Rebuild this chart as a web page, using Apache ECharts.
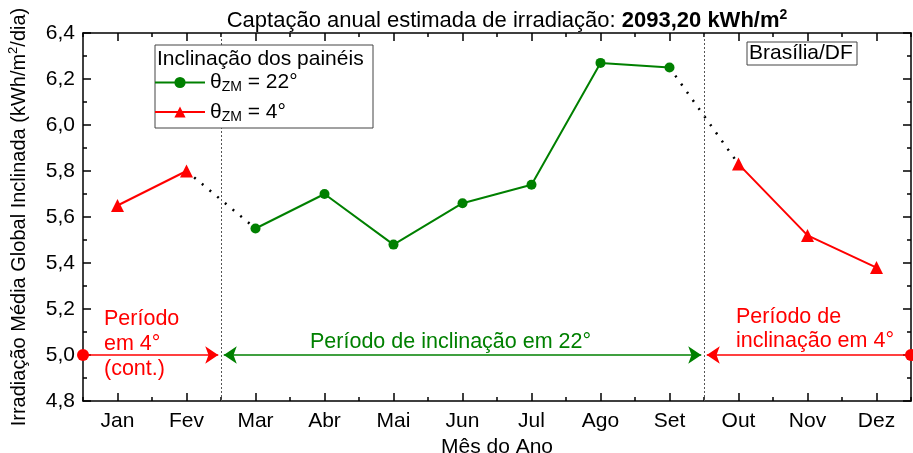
<!DOCTYPE html>
<html>
<head>
<meta charset="utf-8">
<script src="https://cdn.jsdelivr.net/npm/echarts@6/dist/echarts.min.js"></script>
<style>
html,body{margin:0;padding:0;background:#fff}
#main{width:913px;height:453px}
</style>
</head>
<body>
<div id="main"></div>
<script>
// dados
var meses = ['Jan','Fev','Mar','Abr','Mai','Jun','Jul','Ago','Set','Out','Nov','Dez'];
var incl22 = [null,null,5.55,5.70,5.48,5.66,5.74,6.27,6.25,null,null,null];
var incl4 = [5.65,5.80,null,null,null,null,null,null,null,5.83,5.52,5.38];
var transicao = [null,5.80,5.55,null,null,null,null,null,6.25,5.83,null,null];
var eixoY = {min: 4.8, max: 6.4, passo: 0.2};
var trocas = [2.5, 9.5];      // limites entre os períodos (eixo de meses)
var nivelSeta = 5.0;

var fonte = '"Liberation Sans", Arial, sans-serif';
var verde = '#008000', vermelho = '#ff0000';
var tam = 21;

function virgula(v){
    return v.toFixed(1).replace('.', ',');
}

function eixoX(pos, rotulos, centro){
    return {
        type: 'category', data: meses, position: pos, boundaryGap: true,
        axisLine: {show: centro, lineStyle: {color: '#000', width: 1.5}},
        axisTick: {show: true, inside: true, alignWithLabel: centro, length: centro ? 8 : 4,
            lineStyle: {color: '#000', width: 1.5}},
        axisLabel: {show: rotulos, color: '#000', fontSize: tam, fontFamily: fonte, margin: 10},
        splitLine: {show: false}
    };
}

function eixoY2(pos, rotulos){
    return {
        type: 'value', position: pos, min: eixoY.min, max: eixoY.max, interval: eixoY.passo,
        axisLine: {show: true, lineStyle: {color: '#000', width: 1.5}},
        axisTick: {show: true, inside: true, length: 8, lineStyle: {color: '#000', width: 1.5}},
        minorTick: {show: true, splitNumber: 2, length: 4, lineStyle: {color: '#000', width: 1.5}},
        axisLabel: {show: rotulos, color: '#000', fontSize: tam, fontFamily: fonte, margin: 8,
            formatter: virgula},
        splitLine: {show: false}
    };
}

var chart = echarts.init(document.getElementById('main'));

var yPrincipal = eixoY2('left', true);
yPrincipal.name = 'Irradiação Média Global Inclinada (kWh/m{sup|2}/dia)';
yPrincipal.nameLocation = 'middle';
yPrincipal.nameGap = 52;
yPrincipal.nameTextStyle = {color: '#000', fontSize: 20, fontFamily: fonte, lineHeight: 24,
    rich: {sup: {fontSize: 13, lineHeight: 12, verticalAlign: 'top', fontFamily: fonte, color: '#000'}}};

var xPrincipal = eixoX('bottom', true, true);
xPrincipal.name = 'Mês do Ano';
xPrincipal.nameLocation = 'middle';
xPrincipal.nameGap = 33;
xPrincipal.nameTextStyle = {color: '#000', fontSize: tam, fontFamily: fonte, verticalAlign: 'top'};

var estiloSub = {
    t: {fontSize: tam, fontFamily: fonte, color: '#000', lineHeight: 24},
    s: {fontSize: 14, fontFamily: fonte, color: '#000', lineHeight: 12, verticalAlign: 'bottom'}
};

var linhaV = {color: '#555', width: 1, type: [2, 2]};

var option = {
    animation: false,
    backgroundColor: '#fff',
    textStyle: {fontFamily: fonte},
    title: {
        text: 'Captação anual estimada de irradiação: {b|2093,20 kWh/m}{bs|2}',
        left: 502, top: 3, textAlign: 'center',
        textStyle: {fontSize: 22, fontWeight: 'normal', color: '#000', fontFamily: fonte, lineHeight: 26,
            rich: {
                b: {fontSize: 22, fontWeight: 'bold', color: '#000', fontFamily: fonte, lineHeight: 26},
                bs: {fontSize: 14, fontWeight: 'bold', color: '#000', fontFamily: fonte, lineHeight: 12, verticalAlign: 'top'}
            }}
    },
    grid: {left: 83, right: 2, top: 33, bottom: 52, outerBoundsMode: 'none', containLabel: false},
    legend: {
        data: ['22', '4'], orient: 'vertical', left: 149, top: 67, itemGap: 7,
        itemWidth: 50, itemHeight: 14, z: 20,
        formatter: function(n){ return '{t|θ}{s|ZM}{t| = ' + n + '°}'; },
        textStyle: {rich: estiloSub}
    },
    xAxis: [
        xPrincipal,
        eixoX('bottom', false, false),
        eixoX('top', false, true),
        eixoX('top', false, false),
        {type: 'value', min: 0.5, max: 12.5, show: false}
    ],
    yAxis: [yPrincipal, eixoY2('right', false)],
    graphic: [
        {type: 'rect', z: 10, shape: {x: 155, y: 45, width: 218, height: 83},
            style: {fill: '#fff', stroke: '#444', lineWidth: 1}},
        {type: 'text', z: 11, left: 157, top: 49,
            style: {text: 'Inclinação dos painéis', fontSize: tam, fontFamily: fonte, fill: '#000'}},
        {type: 'rect', z: 10, shape: {x: 747, y: 42, width: 110, height: 23},
            style: {fill: '#fff', stroke: '#444', lineWidth: 1}},
        {type: 'text', z: 11, left: 749, top: 43,
            style: {text: 'Brasília/DF', fontSize: tam, fontFamily: fonte, fill: '#000'}},
        {type: 'text', z: 11, left: 104, top: 307,
            style: {text: 'Período\nem 4°\n(cont.)', fontSize: 21.5, lineHeight: 25, fontFamily: fonte, fill: vermelho}},
        {type: 'text', z: 11, left: 310, top: 330,
            style: {text: 'Período de inclinação em 22°', fontSize: 21.5, lineHeight: 24, fontFamily: fonte, fill: verde}},
        {type: 'text', z: 11, left: 736, top: 305,
            style: {text: 'Período de\ninclinação em 4°', fontSize: 21.5, lineHeight: 24, fontFamily: fonte, fill: vermelho}}
    ],
    series: [
        {
            name: 'transicao', type: 'line', data: transicao, z: 1,
            symbol: 'none', connectNulls: false,
            lineStyle: {color: '#000', width: 2.5, type: [2, 8]}
        },
        {
            name: '22', type: 'line', data: incl22, z: 3,
            symbol: 'circle', symbolSize: 10, connectNulls: false,
            itemStyle: {color: verde}, lineStyle: {color: verde, width: 2}
        },
        {
            name: '4', type: 'line', data: incl4, z: 3,
            symbol: 'triangle', symbolSize: 13, connectNulls: false,
            itemStyle: {color: vermelho}, lineStyle: {color: vermelho, width: 2}
        },
        {
            name: 'setas', type: 'line', xAxisIndex: 4, yAxisIndex: 0, data: [],
            symbol: 'none', silent: true, z: 2,
            markLine: {
                silent: true, label: {show: false}, symbol: ['none', 'none'],
                data: [
                    {xAxis: trocas[0], lineStyle: linhaV},
                    {xAxis: trocas[1], lineStyle: linhaV},
                    [
                        {coord: [0.5, nivelSeta], symbol: 'circle', symbolSize: 12, lineStyle: {color: vermelho, width: 1.5, type: 'solid'}, itemStyle: {color: vermelho}},
                        {coord: [trocas[0] - 0.04, nivelSeta], symbol: 'arrow', symbolSize: 13}
                    ],
                    [
                        {coord: [trocas[0] + 0.04, nivelSeta], symbol: 'arrow', symbolSize: 13, lineStyle: {color: verde, width: 1.5, type: 'solid'}, itemStyle: {color: verde}},
                        {coord: [trocas[1] - 0.04, nivelSeta], symbol: 'arrow', symbolSize: 13}
                    ],
                    [
                        {coord: [trocas[1] + 0.04, nivelSeta], symbol: 'arrow', symbolSize: 13, lineStyle: {color: vermelho, width: 1.5, type: 'solid'}, itemStyle: {color: vermelho}},
                        {coord: [12.5, nivelSeta], symbol: 'circle', symbolSize: 12}
                    ]
                ]
            }
        }
    ]
};

chart.setOption(option);
</script>
</body>
</html>
